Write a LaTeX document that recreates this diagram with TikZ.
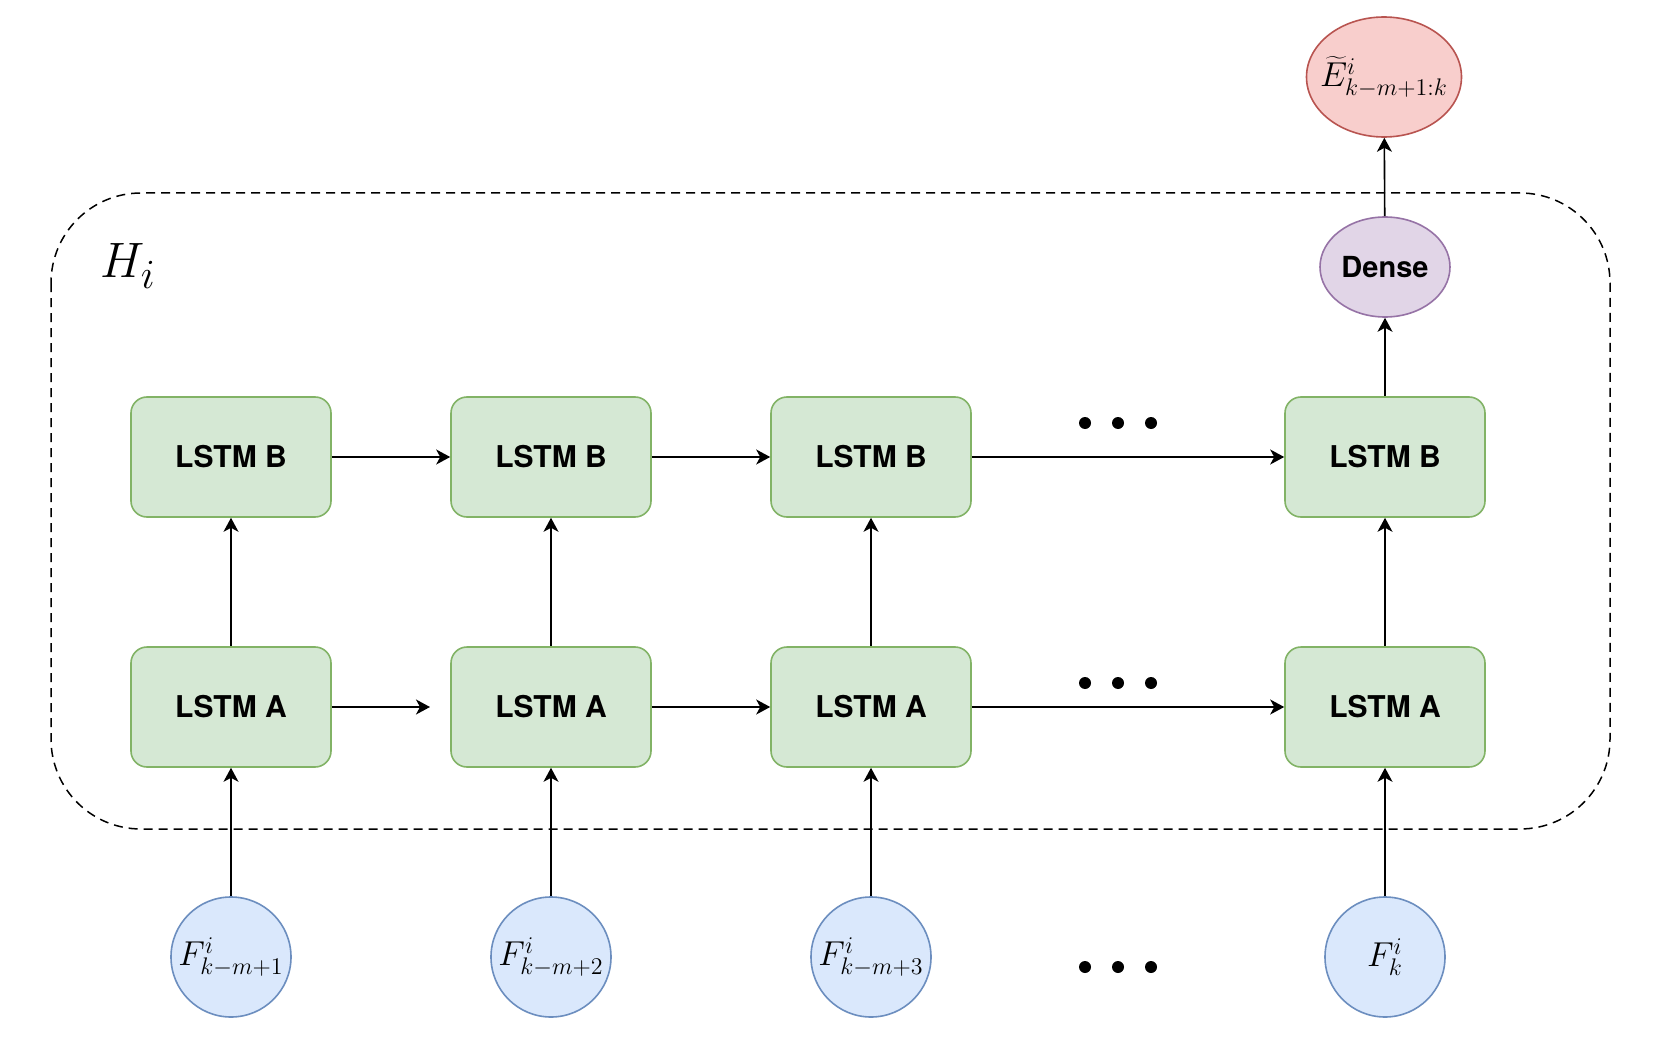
\documentclass[tikz,border=0pt]{standalone}
\usepackage{fontspec}
\newfontfamily\boxfont{TeX Gyre Heros}
\usetikzlibrary{shapes.geometric,arrows.meta}
\definecolor{gfill}{HTML}{D5E8D4}
\definecolor{gdraw}{HTML}{82B366}
\definecolor{bfill}{HTML}{DAE8FC}
\definecolor{bdraw}{HTML}{6C8EBF}
\definecolor{rfill}{HTML}{F8CECC}
\definecolor{rdraw}{HTML}{B85450}
\definecolor{pfill}{HTML}{E1D5E7}
\definecolor{pdraw}{HTML}{9673A6}
\tikzset{
  lstm/.style={draw=gdraw, fill=gfill, line width=0.8pt, rounded corners=8pt,
    minimum width=100pt, minimum height=60pt, inner sep=0pt,
    font=\boxfont\bfseries\fontsize{15}{18}\selectfont},
  feat/.style={circle, draw=bdraw, fill=bfill, line width=0.8pt, minimum size=60pt,
    inner sep=0pt, font=\fontsize{17}{20}\selectfont},
  densenode/.style={ellipse, draw=pdraw, fill=pfill, line width=0.8pt,
    minimum width=65pt, minimum height=50pt, inner sep=0pt,
    font=\boxfont\bfseries\fontsize{14.5}{17}\selectfont},
  outnode/.style={ellipse, draw=rdraw, fill=rfill, line width=0.8pt,
    minimum width=77.5pt, minimum height=60pt, inner sep=0pt,
    font=\fontsize{17}{20}\selectfont},
  conn/.style={line width=0.8pt, -{Stealth[length=7pt,width=7.5pt,inset=2pt]}},
  dotmark/.style={circle, fill=black, inner sep=0pt, minimum size=6pt},
}
\begin{document}
\begin{tikzpicture}[x=0.5pt,y=-0.5pt]
\useasboundingbox (0,0) rectangle (1656,1038);
% container
\draw[line width=0.75pt, dash pattern=on 4.5pt off 3pt, rounded corners=45pt]
  (51,193) rectangle (1610,829);
\node (H) at (128,266) {\fontsize{29}{32}\selectfont $H_i$};
% LSTM B row
\node[lstm] (b1) at (231,457) {LSTM B};
\node[lstm] (b2) at (551,457) {LSTM B};
\node[lstm] (b3) at (871,457) {LSTM B};
\node[lstm] (b4) at (1385,457) {LSTM B};
% LSTM A row
\node[lstm] (a1) at (231,707) {LSTM A};
\node[lstm] (a2) at (551,707) {LSTM A};
\node[lstm] (a3) at (871,707) {LSTM A};
\node[lstm] (a4) at (1385,707) {LSTM A};
% inputs
\node[feat] (f1) at (231,957) {\makebox[0pt]{$F^i_{k-m+1}$}};
\node[feat] (f2) at (551,957) {\makebox[0pt]{$F^i_{k-m+2}$}};
\node[feat] (f3) at (871,957) {\makebox[0pt]{$F^i_{k-m+3}$}};
\node[feat] (f4) at (1385,957) {$F^i_{k}$};
% dense and output
\node[densenode] (dense) at (1385,267) {Dense};
\node[outnode] (out) at (1384,77) {\makebox[0pt]{$\widetilde{E}^i_{k-m+1:k}$}};
% dots
\foreach \r/\y in {b/423, a/683, f/967}{
  \node[dotmark] (d\r1) at (1085,\y) {};
  \node[dotmark] (d\r2) at (1118,\y) {};
  \node[dotmark] (d\r3) at (1151,\y) {};
}
\coordinate (a12end) at (430,707);
% connectors
\draw[conn] (b1) -- (b2);
\draw[conn] (b2) -- (b3);
\draw[conn] (b3) -- (b4);
\draw[conn] (a1.east) -- (a12end);
\draw[conn] (a2) -- (a3);
\draw[conn] (a3) -- (a4);
\foreach \i in {1,2,3,4}{
  \draw[conn] (a\i) -- (b\i);
  \draw[conn] (f\i) -- (a\i);
}
\draw[conn] (b4) -- (dense);
\draw[conn] (dense) -- (out);
\end{tikzpicture}
\end{document}
